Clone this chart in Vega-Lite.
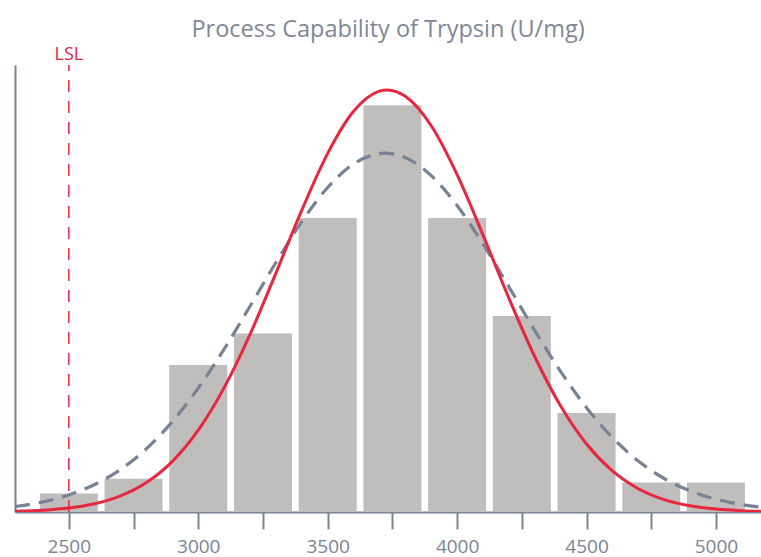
{
  "$schema": "https://vega.github.io/schema/vega-lite/v6.json",
  "width": 746,
  "height": 447,
  "autosize": {"type": "none"},
  "padding": {"left": 15, "top": 65, "right": 0, "bottom": 45},
  "background": "white",
  "title": {
    "text": "Process Capability of Trypsin (U/mg)",
    "anchor": "middle",
    "font": "Open Sans",
    "fontSize": 23.5,
    "fontWeight": "normal",
    "color": "#7f8797",
    "offset": 5
  },
  "config": {
    "view": {"stroke": null},
    "axis": {"grid": false}
  },
  "datasets": {
    "bars": [
      {"value": 2500, "count": 1.9},
      {"value": 2750, "count": 3.4},
      {"value": 3000, "count": 15.0},
      {"value": 3250, "count": 18.2},
      {"value": 3500, "count": 30.0},
      {"value": 3750, "count": 41.5},
      {"value": 4000, "count": 30.0},
      {"value": 4250, "count": 20.0},
      {"value": 4500, "count": 10.1},
      {"value": 4750, "count": 3.0},
      {"value": 5000, "count": 3.0}
    ],
    "within": [
      {"x": 2292, "fit": 0.074}, {"x": 2300, "fit": 0.080}, {"x": 2400, "fit": 0.186},
      {"x": 2500, "fit": 0.408}, {"x": 2600, "fit": 0.845}, {"x": 2700, "fit": 1.642},
      {"x": 2800, "fit": 3.003}, {"x": 2900, "fit": 5.163}, {"x": 3000, "fit": 8.345},
      {"x": 3100, "fit": 12.69}, {"x": 3200, "fit": 18.13}, {"x": 3300, "fit": 24.37},
      {"x": 3400, "fit": 30.80}, {"x": 3500, "fit": 36.59}, {"x": 3600, "fit": 40.88},
      {"x": 3700, "fit": 42.94}, {"x": 3730, "fit": 43.06}, {"x": 3800, "fit": 42.41},
      {"x": 3900, "fit": 39.40}, {"x": 4000, "fit": 34.41}, {"x": 4100, "fit": 28.25},
      {"x": 4200, "fit": 21.81}, {"x": 4300, "fit": 15.84}, {"x": 4400, "fit": 10.81},
      {"x": 4500, "fit": 6.938}, {"x": 4600, "fit": 4.189}, {"x": 4700, "fit": 2.378},
      {"x": 4800, "fit": 1.268}, {"x": 4900, "fit": 0.636}, {"x": 5000, "fit": 0.300},
      {"x": 5100, "fit": 0.133}, {"x": 5174, "fit": 0.070}
    ],
    "overall": [
      {"x": 2292, "fit": 0.564}, {"x": 2300, "fit": 0.590}, {"x": 2400, "fit": 1.035},
      {"x": 2500, "fit": 1.739}, {"x": 2600, "fit": 2.804}, {"x": 2700, "fit": 4.344},
      {"x": 2800, "fit": 6.46}, {"x": 2900, "fit": 9.22}, {"x": 3000, "fit": 12.63},
      {"x": 3100, "fit": 16.62}, {"x": 3200, "fit": 20.99}, {"x": 3300, "fit": 25.45},
      {"x": 3400, "fit": 29.62}, {"x": 3500, "fit": 33.10}, {"x": 3600, "fit": 35.51},
      {"x": 3700, "fit": 36.56}, {"x": 3722, "fit": 36.6}, {"x": 3800, "fit": 36.15},
      {"x": 3900, "fit": 34.31}, {"x": 4000, "fit": 31.26}, {"x": 4100, "fit": 27.34},
      {"x": 4200, "fit": 22.96}, {"x": 4300, "fit": 18.51}, {"x": 4400, "fit": 14.33},
      {"x": 4500, "fit": 10.64}, {"x": 4600, "fit": 7.59}, {"x": 4700, "fit": 5.197},
      {"x": 4800, "fit": 3.417}, {"x": 4900, "fit": 2.156}, {"x": 5000, "fit": 1.306},
      {"x": 5100, "fit": 0.760}, {"x": 5174, "fit": 0.496}
    ],
    "lsl": [
      {"x": 2500, "label": "LSL", "y0": 0, "y1": 45.6, "ylab": 46.6}
    ]
  },
  "layer": [
    {
      "data": {"name": "bars"},
      "mark": {"type": "bar", "width": 58, "color": "#c0bebc"},
      "encoding": {
        "x": {
          "field": "value",
          "type": "quantitative",
          "scale": {"domain": [2292, 5174], "nice": false, "zero": false, "padding": 0},
          "axis": {
            "title": null,
            "values": [2500, 2750, 3000, 3250, 3500, 3750, 4000, 4250, 4500, 4750, 5000],
            "labelExpr": "datum.value % 500 === 0 ? datum.value : ''",
            "format": "d",
            "domainColor": "#7a8494",
            "domainWidth": 2,
            "tickColor": "#7a8494",
            "tickWidth": 2,
            "tickSize": 17,
            "labelColor": "#7a8494",
            "labelFont": "Open Sans",
            "labelFontSize": 19,
            "labelPadding": 8,
            "labelFlush": false,
            "labelOverlap": false
          }
        },
        "y": {
          "field": "count",
          "type": "quantitative",
          "scale": {"domain": [0, 45.6], "nice": false},
          "axis": {
            "title": null,
            "labels": false,
            "ticks": false,
            "domainColor": "#7a8494",
            "domainWidth": 2
          }
        }
      }
    },
    {
      "data": {"name": "lsl"},
      "mark": {"type": "rule", "color": "#e8263f", "strokeWidth": 1.5, "strokeDash": [12, 9]},
      "encoding": {
        "x": {"field": "x", "type": "quantitative"},
        "y": {"field": "y0", "type": "quantitative"},
        "y2": {"field": "y1"}
      }
    },
    {
      "data": {"name": "overall"},
      "mark": {"type": "line", "color": "#778394", "strokeWidth": 3.2, "strokeDash": [15, 9], "interpolate": "monotone", "clip": true},
      "encoding": {
        "x": {"field": "x", "type": "quantitative"},
        "y": {"field": "fit", "type": "quantitative"}
      }
    },
    {
      "data": {"name": "within"},
      "mark": {"type": "line", "color": "#e8263f", "strokeWidth": 3, "interpolate": "monotone", "clip": true},
      "encoding": {
        "x": {"field": "x", "type": "quantitative"},
        "y": {"field": "fit", "type": "quantitative"}
      }
    },
    {
      "data": {"name": "lsl"},
      "mark": {"type": "text", "color": "#e8263f", "font": "Open Sans", "fontSize": 18, "baseline": "middle", "align": "center"},
      "encoding": {
        "x": {"field": "x", "type": "quantitative"},
        "y": {"field": "ylab", "type": "quantitative"},
        "text": {"field": "label"}
      }
    }
  ]
}
